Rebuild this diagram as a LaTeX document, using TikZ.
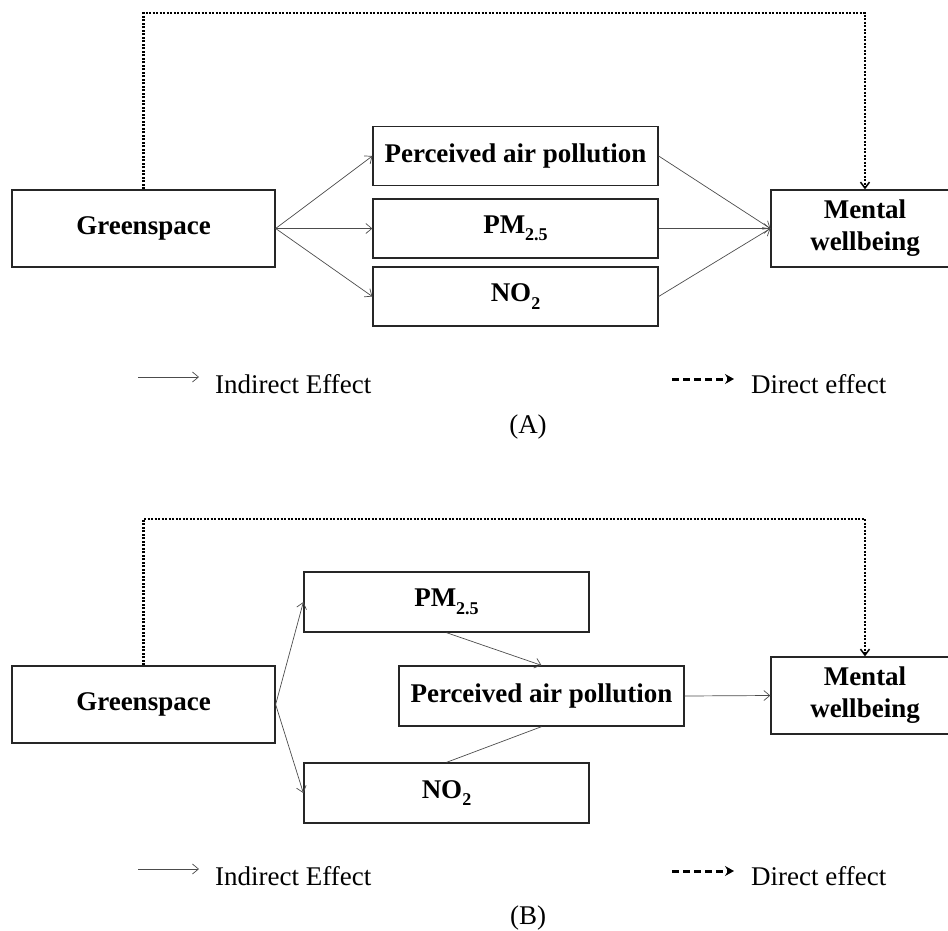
\documentclass[tikz,border=0pt]{standalone}
\usepackage{fontspec}
\setmainfont{Liberation Serif}
\usetikzlibrary{arrows.meta}
\newcommand\boxsub[1]{\raisebox{-0.28em}{\fontsize{18}{18}\selectfont\bfseries #1}}
\begin{document}
\begin{tikzpicture}[x=1pt,y=-1pt,
  box/.style={draw=black!85, line width=1.3pt, inner sep=0pt, align=center,
    font=\fontsize{27}{32}\selectfont\bfseries},
  gbox/.style={box, minimum width=263pt, minimum height=77pt},
  mbox/.style={box, minimum width=285pt, minimum height=59pt},
  wbox/.style={box, minimum width=188pt, minimum height=77pt},
  ind/.style={draw=black!70, line width=0.7pt, -{Straight Barb[length=6pt,width=10pt]}},
  link/.style={draw=black!70, line width=0.7pt},
  direct/.style={line width=2.3pt, dash pattern=on 2.2pt off 1.3pt,
    -{Straight Barb[length=6pt,width=9pt,line width=1.5pt]}},
  legdash/.style={line width=3pt, dash pattern=on 7pt off 4pt,
    -{Stealth[length=9pt,width=10pt,inset=3pt]}},
  legtext/.style={font=\fontsize{27}{32}\selectfont, anchor=base west, inner sep=0pt},
  panel/.style={font=\fontsize{27}{32}\selectfont, anchor=base, inner sep=0pt},
]
\useasboundingbox (0,0) rectangle (948,930);
\clip (0,0) rectangle (948,930);

% ---------------- Panel A ----------------
\node[gbox] (GA) at (143.5,228.5) {Greenspace};
\node[mbox] (PA) at (515.5,156) {Perceived air pollution};
\node[mbox] (PMA) at (515.5,228.5) {PM\boxsub{2.5}};
\node[mbox] (NOA) at (515.5,296.5) {NO\boxsub{2}};
\node[wbox] (MA) at (865,228.5) {Mental\\wellbeing};

\draw[ind] (GA.east) -- (PA.west);
\draw[ind] (GA.east) -- (PMA.west);
\draw[ind] (GA.east) -- (NOA.west);
\draw[ind] (PA.east) -- (MA.west);
\draw[ind] (PMA.east) -- (MA.west);
\draw[ind] (NOA.east) -- (MA.west);

\coordinate (topA) at (143.5,13);
\draw[direct] (GA.north) -- (GA.north |- topA) -| (MA.north);

\coordinate (liA1) at (138,377);
\coordinate (liA2) at (199,377);
\draw[ind] (liA1) -- (liA2);
\node[legtext] (indA) at (215,393) {Indirect Effect};
\coordinate (ldA1) at (672,379);
\coordinate (ldA2) at (734,379);
\draw[legdash] (ldA1) -- (ldA2);
\node[legtext] (dirA) at (751,393) {Direct effect};
\node[panel] (labA) at (528,433) {(A)};

% ---------------- Panel B ----------------
\node[gbox] (GB) at (143.5,704.5) {Greenspace};
\node[mbox, minimum height=60pt] (PMB) at (446.5,602) {PM\boxsub{2.5}};
\node[mbox, minimum height=60pt] (PB) at (541.5,696) {Perceived air pollution};
\node[mbox, minimum height=60pt] (NOB) at (446.5,793) {NO\boxsub{2}};
\node[wbox] (MB) at (865,695.5) {Mental\\wellbeing};

\draw[ind] (GB.east) -- (PMB.west);
\draw[ind] (GB.east) -- (NOB.west);
\draw[ind] (PMB.south) -- (PB.north);
\draw[link] (PB.south) -- (NOB.north);
\draw[ind] (PB.east) -- (MB.west);

\coordinate (topB) at (143.5,519);
\draw[direct] (GB.north) -- (GB.north |- topB) -| (MB.north);

\coordinate (liB1) at (138,869);
\coordinate (liB2) at (199,869);
\draw[ind] (liB1) -- (liB2);
\node[legtext] (indB) at (215,885) {Indirect Effect};
\coordinate (ldB1) at (672,871);
\coordinate (ldB2) at (734,871);
\draw[legdash] (ldB1) -- (ldB2);
\node[legtext] (dirB) at (751,885) {Direct effect};
\node[panel] (labB) at (528,924) {(B)};
\end{tikzpicture}
\end{document}
